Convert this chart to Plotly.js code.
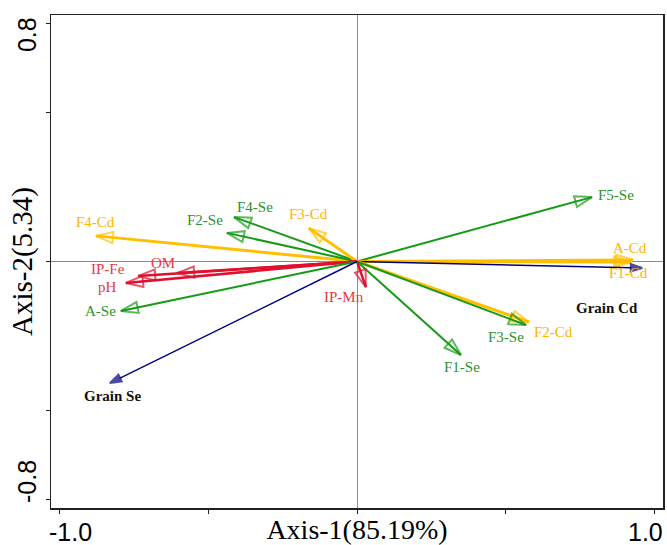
<!DOCTYPE html>
<html><head><meta charset="utf-8">
<script src="https://cdn.plot.ly/plotly-3.0.1.min.js"></script>
<style>html,body{margin:0;padding:0;background:#fff}#chart{width:667px;height:545px}</style>
</head><body><div id="chart"></div>
<script>
// ---- data ----
const variables = ['F4-Cd','F2-Se','F4-Se','F3-Cd','F5-Se','A-Cd','F1-Cd','Grain Cd','F2-Cd','F3-Se','F1-Se','IP-Mn','IP-Fe','OM','pH','A-Se','Grain Se'];
const axis1 = [-0.879,-0.438,-0.414,-0.162,0.791,0.929,0.923,0.960,0.579,0.569,0.350,0.030,-0.737,-0.606,-0.778,-0.795,-0.832];
const axis2 = [0.086,0.096,0.149,0.112,0.216,0.005,-0.002,-0.022,-0.203,-0.213,-0.314,-0.086,-0.049,-0.039,-0.072,-0.166,-0.408];
const groups = ['Cd','Se','Se','Cd','Se','Cd','Cd','Grain','Cd','Se','Se','Soil','Soil','Soil','Soil','Se','Grain'];
const xTickVals = [-1, -0.5, 0, 0.5, 1];
const xTickText = ['-1.0', '', '', '', '1.0'];
const yTickVals = [-0.8, -0.5, 0, 0.5, 0.8];
const yTickText = ['-0.8', '', '', '', '0.8'];
const xTitle = 'Axis-1(85.19%)';
const yTitle = 'Axis-2(5.34)';

// ---- styles ----
const groupStyle = {
  Cd:    {line:'#FFBF00', width:3,   label:'#FFB300', head:'arrow-open', size:18, bold:false},
  Se:    {line:'#169A16', width:2,   label:'#2A922A', head:'arrow-open', size:18, bold:false},
  Soil:  {line:'#E0102E', width:2.5, label:'#E8393F', head:'arrow-open', size:18, bold:false},
  Grain: {line:'#00007F', width:1.4, label:'#111111', head:'arrow',      size:12, bold:true}
};
const labelShift = {
  'F4-Cd':[0,14], 'F2-Se':[-22,13], 'F4-Se':[21,10], 'F3-Cd':[0,14], 'F5-Se':[24,2],
  'A-Cd':[-3,12], 'F1-Cd':[-3,-11], 'Grain Cd':[-35,-40], 'F2-Cd':[24,-10], 'F3-Se':[-20,-12],
  'F1-Se':[1,-12], 'IP-Mn':[-22,-10], 'IP-Fe':[-30,7], 'OM':[-14,10], 'pH':[-18,-4],
  'A-Se':[-20,0], 'Grain Se':[3,-13]
};
const serif = 'Liberation Serif, serif';
const sans = 'Liberation Sans, Arial, sans-serif';

const traces = variables.map((v, i) => {
  const s = groupStyle[groups[i]];
  return {
    type: 'scatter', mode: 'lines+markers', name: v, showlegend: false, hoverinfo: 'name',
    x: [0, axis1[i]], y: [0, axis2[i]],
    line: {color: s.line, width: s.width},
    marker: {symbol: s.head, size: [0, s.size], angleref: 'previous', color: s.line,
             line: {color: s.line, width: 2}}
  };
});

const annotations = variables.map((v, i) => {
  const s = groupStyle[groups[i]];
  const sh = labelShift[v];
  return {
    xref: 'x', yref: 'y', x: axis1[i], y: axis2[i], showarrow: false,
    text: s.bold ? '<b>' + v + '</b>' : v,
    xshift: sh[0], yshift: sh[1], xanchor: 'center', yanchor: 'middle',
    font: {family: serif, size: 15, color: s.label}
  };
});
// tick labels placed inward like the original
xTickVals.forEach((t, i) => {
  if (!xTickText[i]) return;
  annotations.push({xref: 'x', yref: 'paper', x: t, y: -0.0487, showarrow: false,
    text: xTickText[i], xanchor: 'center', yanchor: 'middle', xshift: t < 0 ? 11 : -9,
    font: {family: sans, size: 25, color: '#000'}});
});
yTickVals.forEach((t, i) => {
  if (!yTickText[i]) return;
  annotations.push({xref: 'paper', yref: 'y', x: -0.0392, y: t, showarrow: false,
    text: yTickText[i], textangle: -90, xanchor: 'center', yanchor: 'middle', yshift: t > 0 ? -12 : 18,
    font: {family: sans, size: 25, color: '#000'}});
});

const layout = {
  width: 667, height: 545,
  margin: {l: 51, r: 4, t: 15, b: 37},
  paper_bgcolor: '#fff', plot_bgcolor: '#fff',
  showlegend: false,
  xaxis: {
    range: [-1.03, 1.03], tickvals: xTickVals, ticktext: xTickText, showticklabels: false,
    ticks: 'outside', ticklen: 4, tickcolor: '#222', tickwidth: 1,
    showline: true, mirror: true, linecolor: '#222', linewidth: 1.5,
    showgrid: false, zeroline: true, zerolinecolor: '#8a8a8a', zerolinewidth: 1,
    title: {text: xTitle, font: {family: serif, size: 28, color: '#000'}, standoff: 8}
  },
  yaxis: {
    range: [-0.827, 0.827], tickvals: yTickVals, ticktext: yTickText, showticklabels: false,
    ticks: 'outside', ticklen: 4, tickcolor: '#222', tickwidth: 1,
    showline: true, mirror: true, linecolor: '#222', linewidth: 1.5,
    showgrid: false, zeroline: true, zerolinecolor: '#8a8a8a', zerolinewidth: 1,
    title: {text: yTitle, font: {family: serif, size: 29, color: '#000'}, standoff: 4}
  },
  annotations: annotations
};

Plotly.newPlot('chart', traces, layout, {displayModeBar: false, staticPlot: true});
</script>
</body></html>
